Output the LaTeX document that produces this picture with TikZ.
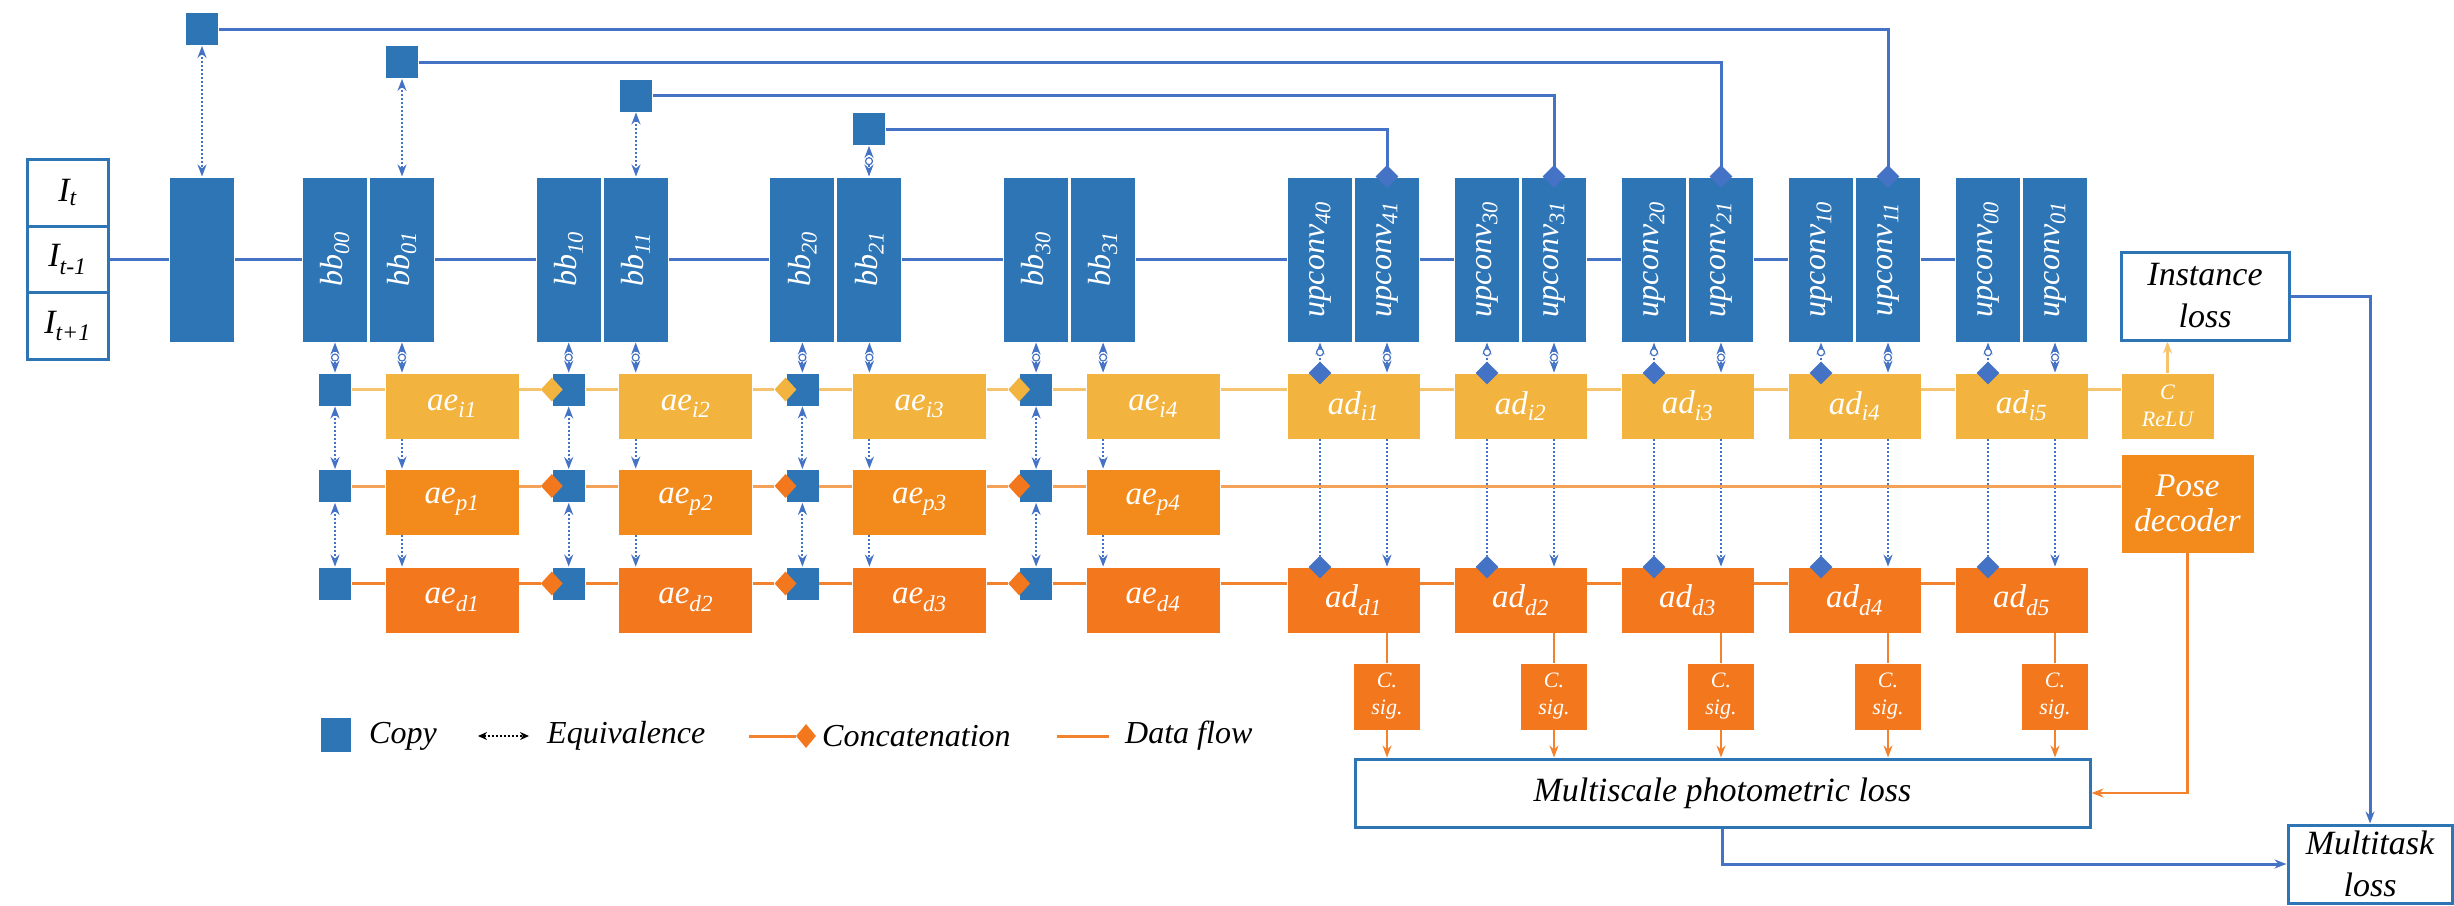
\documentclass[tikz,border=0pt]{standalone}
\usepackage{fontspec}
\setmainfont{Liberation Serif}
\usepackage{graphicx}
\usetikzlibrary{arrows.meta,shapes.geometric}

\definecolor{boxblue}{HTML}{2E75B6}
\definecolor{lineblue}{HTML}{4472C4}
\definecolor{rowi}{HTML}{F3B43F}
\definecolor{rowp}{HTML}{F28B1B}
\definecolor{rowd}{HTML}{F3781D}
\definecolor{flowi}{HTML}{F6C46E}
\definecolor{flowp}{HTML}{F4A257}
\definecolor{flowd}{HTML}{F2822E}

\newcommand{\lblfont}{\fontsize{33}{35}\selectfont\itshape}
\newcommand{\rotfont}{\fontsize{32}{34}\selectfont\itshape}
\newcommand{\smlfont}{\fontsize{22}{27}\selectfont\itshape}
\newcommand{\lossfont}{\fontsize{34}{42}\selectfont\itshape}

\tikzset{
  blk/.style={rectangle, fill=boxblue, draw=white, line width=1pt, minimum width=65pt, minimum height=165pt, inner sep=0pt, text=white, font=\rotfont},
  cpy/.style={rectangle, fill=boxblue, draw=white, line width=0.8pt, minimum size=33pt, inner sep=0pt},
  enc/.style={rectangle, draw=white, line width=0.8pt, minimum width=134pt, minimum height=66pt, inner sep=0pt, text=white, font=\lblfont},
  minibox/.style={rectangle, draw=white, line width=0.8pt, inner sep=0pt, text=white, font=\smlfont, align=center},
  lossbox/.style={rectangle, draw=boxblue, line width=3pt, fill=white, inner sep=0pt, font=\lossfont, align=center},
  inbox/.style={rectangle, draw=boxblue, line width=3pt, fill=white, minimum width=81pt, minimum height=67pt, inner sep=0pt, font=\lossfont},
  bdia/.style={diamond, fill=lineblue, inner sep=0pt, minimum size=23pt},
  odia/.style={diamond, inner sep=0pt, minimum width=22pt, minimum height=24pt},
  mainflow/.style={draw=lineblue, line width=3pt},
  flowline/.style={line width=3pt},
  dropline/.style={draw=flowd, line width=2.5pt},
  equiv/.style={draw=lineblue, line width=2pt, dash pattern=on 2pt off 2pt},
  ring/.style={circle, solid, draw=lineblue, fill=white, line width=1.2pt, inner sep=0pt, minimum size=7pt},
  legtxt/.style={font=\fontsize{32}{34}\selectfont\itshape, anchor=west, inner sep=0pt}
}

\begin{document}
\begin{tikzpicture}[x=1pt, y=-1pt, >={Stealth[length=12pt,width=9pt]}]
    \useasboundingbox (0,0) rectangle (2454,905);

    % 1. input frames
    \node [inbox] (in0) at (67.5,192.5) {I\textsubscript{t}};
    \node [inbox] (in1) at (67.5,259.5) {I\textsubscript{t-1}};
    \node [inbox] (in2) at (67.5,326) {I\textsubscript{t+1}};

    % 2. backbone and upconv blocks
    \node [blk] (b0) at (201.5,259.5) {};
    \foreach \k in {0,...,3} {
      \pgfmathsetmacro{\xl}{335+233.7*\k}
      \node [blk] (bb\k0) at (\xl,259.5) {\rotatebox{90}{bb\textsubscript{\k0}}};
      \node [blk] (bb\k1) at (\xl+67,259.5) {\rotatebox{90}{bb\textsubscript{\k1}}};
    }
    \foreach \k [count=\m from 0] in {4,3,2,1,0} {
      \pgfmathsetmacro{\xl}{1320+167*\m}
      \node [blk] (up\k0) at (\xl,259.5) {\rotatebox{90}{upconv\textsubscript{\k0}}};
      \node [blk] (up\k1) at (\xl+67,259.5) {\rotatebox{90}{upconv\textsubscript{\k1}}};
    }
    \draw [mainflow] (in1.east) -- (b0.west);
    \foreach \a/\b in {b0/bb00, bb01/bb10, bb11/bb20, bb21/bb30, bb31/up40, up41/up30, up31/up20, up21/up10, up11/up00}
      \draw [mainflow] (\a.east) -- (\b.west);

    % 3. skip copies on top
    \foreach \n/\x/\y/\dst in {0/202/29/up11, 1/402/62/up21, 2/636/95.5/up31, 3/869/129/up41} {
      \node [cpy] (top\n) at (\x,\y) {};
      \draw [mainflow] (top\n.east) -| (\dst.north);
      \node [bdia] (tq\n) at (\dst.north) {};
    }
    \draw [equiv, <->] (top0.south) -- (top0.south |- b0.north);
    \draw [equiv, <->] (top1.south) -- (top1.south |- bb01.north);
    \draw [equiv, <->] (top2.south) -- (top2.south |- bb11.north);
    \draw [equiv, <->] (top3.south) -- node [ring] {} (top3.south |- bb21.north);

    % 4. encoder rows (instance, pose, depth)
    \foreach \k in {0,...,3} {
      \pgfmathsetmacro{\xl}{335+233.7*\k}
      \pgfmathtruncatemacro{\n}{\k+1}
      \node [cpy] (ci\k) at (\xl,389.5) {};
      \node [cpy] (cp\k) at (\xl,486) {};
      \node [cpy] (cd\k) at (\xl,583.5) {};
      \node [enc, fill=rowi] (aei\k) at (\xl+117,406) {ae\textsubscript{i\n}};
      \node [enc, fill=rowp] (aep\k) at (\xl+117,502) {ae\textsubscript{p\n}};
      \node [enc, fill=rowd] (aed\k) at (\xl+117,600) {ae\textsubscript{d\n}};
    }
    \foreach \k in {1,2,3} {
      \node [odia, fill=rowi] (di\k) at (ci\k.west) {};
      \node [odia, fill=rowd] (dp\k) at (cp\k.west) {};
      \node [odia, fill=rowd] (dd\k) at (cd\k.west) {};
    }
    \foreach \k in {0,...,3} {
      \draw [equiv, <->] (bb\k0.south) -- node [ring] {} (ci\k.north);
      \draw [equiv, <->] (bb\k1.south) -- node [ring] {} (bb\k1.south |- aei\k.north);
      \draw [equiv, <->] (ci\k.south) -- (cp\k.north);
      \draw [equiv, <->] (cp\k.south) -- (cd\k.north);
      \draw [equiv, ->] (bb\k1.south |- aei\k.south) -- (bb\k1.south |- aep\k.north);
      \draw [equiv, ->] (bb\k1.south |- aep\k.south) -- (bb\k1.south |- aed\k.north);
    }

    % 5. decoder rows
    \foreach \k [count=\m] in {4,3,2,1,0} {
      \pgfmathsetmacro{\xl}{1320+167*(\m-1)}
      \node [enc, minimum width=133pt, fill=rowi] (adi\m) at (\xl+33.5,406) {ad\textsubscript{i\m}};
      \node [enc, minimum width=133pt, fill=rowd] (add\m) at (\xl+33.5,600) {ad\textsubscript{d\m}};
      \node [minibox, fill=rowd, minimum size=67pt] (cs\m) at (\xl+67,696.5) {C.\\sig.};
      \draw [equiv, <-] (up\k0.south) -- node [ring] {} (\xl,362);
      \draw [equiv, <->] (up\k1.south) -- node [ring] {} (up\k1.south |- adi\m.north);
      \draw [equiv] (\xl,439) -- (\xl,556);
      \draw [equiv, ->] (up\k1.south |- adi\m.south) -- (up\k1.south |- add\m.north);
      \node [bdia] (qi\m) at (\xl,373) {};
      \node [bdia] (qd\m) at (\xl,567) {};
      \draw [dropline] (up\k1.south |- add\m.south) -- (cs\m.north);
    }

    % 6. heads and losses
    \node [minibox, fill=rowi, minimum width=93pt, minimum height=66pt] (crelu) at (2167.5,406) {C\\ReLU};
    \node [minibox, fill=rowp, minimum width=133pt, minimum height=99pt, font=\lblfont] (pose) at (2187.5,503.5) {Pose\\decoder};
    \node [lossbox, minimum width=168pt, minimum height=88pt] (inst) at (2205,296) {Instance\\loss};
    \node [lossbox, minimum width=735pt, minimum height=68pt] (ms) at (1722.5,793) {Multiscale photometric loss};
    \node [lossbox, minimum width=164pt, minimum height=78pt] (mt) at (2370,864) {Multitask\\loss};

    % 7. row data flows
    \foreach \a/\b in {ci0/aei0, aei0/di1, ci1/aei1, aei1/di2, ci2/aei2, aei2/di3, ci3/aei3, aei3/adi1, adi1/adi2, adi2/adi3, adi3/adi4, adi4/adi5, adi5/crelu}
      \draw [flowline, draw=flowi] (\a.east |- ci0.east) -- (\b.west |- ci0.east);
    \foreach \a/\b in {cp0/aep0, aep0/dp1, cp1/aep1, aep1/dp2, cp2/aep2, aep2/dp3, cp3/aep3, aep3/pose}
      \draw [flowline, draw=flowp] (\a.east |- cp0.east) -- (\b.west |- cp0.east);
    \foreach \a/\b in {cd0/aed0, aed0/dd1, cd1/aed1, aed1/dd2, cd2/aed2, aed2/dd3, cd3/aed3, aed3/add1, add1/add2, add2/add3, add3/add4, add4/add5}
      \draw [flowline, draw=flowd] (\a.east |- cd0.east) -- (\b.west |- cd0.east);
    \foreach \m in {1,...,5}
      \draw [dropline, ->] (cs\m.south) -- (cs\m.south |- ms.north);

    % 8. loss connections
    \draw [flowline, draw=flowi, ->] (crelu.north) -- (crelu.north |- inst.south);
    \draw [dropline, ->] (pose.south) |- (ms.east);
    \draw [mainflow, ->] (inst.east) -| (mt.north);
    \draw [mainflow, ->] (ms.south) |- (mt.west);

    % 9. legend
    \node [cpy, minimum width=31pt, minimum height=35pt] (lgcopy) at (335.5,734.5) {};
    \node [legtxt] (lgcopyt) at (369,736) {Copy};
    \coordinate (lgeqa) at (478,736);
    \coordinate (lgeqb) at (529,736);
    \draw [line width=2pt, dash pattern=on 2pt off 2pt, {Stealth[length=9pt,width=8pt]}-{Stealth[length=9pt,width=8pt]}] (lgeqa) -- (lgeqb);
    \node [legtxt] (lgeqt) at (547,736) {Equivalence};
    \coordinate (lgcata) at (749,736);
    \node [odia, fill=rowd, minimum width=20pt, minimum height=24pt] (lgcat) at (806,736) {};
    \draw [flowline, draw=flowd] (lgcata) -- (lgcat.west);
    \node [legtxt] (lgcatt) at (822,736) {Concatenation};
    \coordinate (lgfla) at (1057,736);
    \coordinate (lgflb) at (1109,736);
    \draw [flowline, draw=flowd] (lgfla) -- (lgflb);
    \node [legtxt] (lgflt) at (1125,736) {Data flow};
\end{tikzpicture}
\end{document}
